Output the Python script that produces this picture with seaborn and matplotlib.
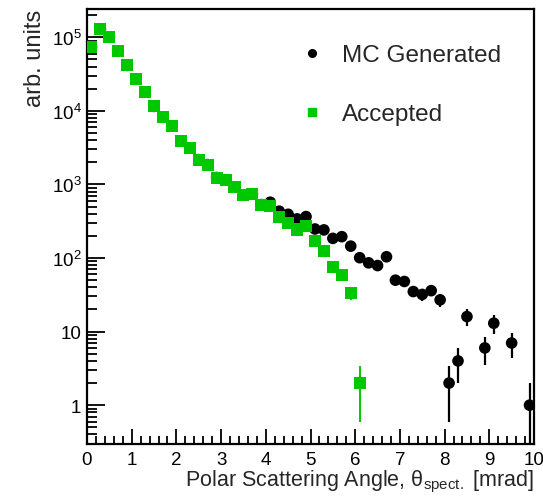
import numpy as np
import pandas as pd
import matplotlib
matplotlib.use("Agg")
import matplotlib.pyplot as plt
import seaborn as sns
from matplotlib.lines import Line2D
from matplotlib.ticker import FixedLocator, FixedFormatter, LogLocator, NullFormatter, MultipleLocator

# ---------------- data ----------------
angle_bins = [round(0.1 + 0.2 * i, 1) for i in range(50)]

accepted = [7.4e4, 1.28e5, 1.01e5, 6.5e4, 4.15e4, 2.7e4, 1.8e4, 1.15e4, 8.3e3, 6.2e3,
            3.9e3, 3.15e3, 2.17e3, 1.86e3, 1.24e3, 1.16e3, 925, 720, 745, 532,
            515, 358, 300, 244, 270, 169, 123, 75, 59, 33,
            2]

generated = [7.4e4, 1.28e5, 1.01e5, 6.5e4, 4.15e4, 2.7e4, 1.8e4, 1.15e4, 8.3e3, 6.2e3,
             3.9e3, 3.15e3, 2.17e3, 1.86e3, 1.24e3, 1.16e3, 925, 720, 745, 532,
             573, 433, 393, 340, 366, 248, 241, 185, 195, 145,
             101, 86, 79, 104, 50, 48, 35, 32, 36, 27,
             2, 4, 16, np.nan, 6, 13, np.nan, 7, np.nan, 1]

series_labels = ["MC Generated", "Accepted"]
y_tick_values = [1, 10, 100, 1000, 10000, 100000]
y_tick_labels = ["1", "10", "$10^{2}$", "$10^{3}$", "$10^{4}$", "$10^{5}$"]
x_tick_values = list(range(0, 11))

# ---------------- style ----------------
sns.set_theme(style="ticks")
plt.rcParams["font.family"] = ["Liberation Sans", "DejaVu Sans"]
plt.rcParams["mathtext.fontset"] = "custom"
plt.rcParams["mathtext.rm"] = "Liberation Sans"
plt.rcParams["mathtext.it"] = "Liberation Sans:italic"
plt.rcParams["mathtext.bf"] = "Liberation Sans:bold"

gen_df = pd.DataFrame({"angle": angle_bins, "count": generated}).dropna()
acc_df = pd.DataFrame({"angle": angle_bins[:len(accepted)], "count": accepted})
gen_df["err"] = np.sqrt(gen_df["count"])
acc_df["err"] = np.sqrt(acc_df["count"])

fig = plt.figure(figsize=(5.43, 5.02), dpi=100)
ax = fig.add_axes([87 / 543, 1 - 445 / 502, (534 - 87) / 543, (445 - 10) / 502])

black = "#000000"
green = "#00c800"

# error bars
ax.errorbar(gen_df["angle"], gen_df["count"], yerr=gen_df["err"], fmt="none",
            ecolor=black, elinewidth=1.6, capsize=0, zorder=2)
ax.errorbar(acc_df["angle"], acc_df["count"], yerr=acc_df["err"], fmt="none",
            ecolor=green, elinewidth=1.4, capsize=0, zorder=4)

sns.scatterplot(data=gen_df, x="angle", y="count", ax=ax, color=black, marker="o",
                s=70, edgecolor="none", linewidth=0, zorder=3, legend=False)
sns.scatterplot(data=acc_df, x="angle", y="count", ax=ax, color=green, marker="s",
                s=75, edgecolor="none", linewidth=0, zorder=5, legend=False)

ax.set_yscale("log")
ax.set_xlim(0, 10)
ax.set_ylim(0.297, 2.42e5)

# ticks
ax.xaxis.set_major_locator(FixedLocator(x_tick_values))
ax.xaxis.set_minor_locator(MultipleLocator(0.2))
ax.yaxis.set_major_locator(FixedLocator(y_tick_values))
ax.yaxis.set_major_formatter(FixedFormatter(y_tick_labels))
ax.yaxis.set_minor_locator(LogLocator(base=10, subs=np.arange(2, 10), numticks=20))
ax.yaxis.set_minor_formatter(NullFormatter())

ax.tick_params(axis="both", which="both", direction="in", top=False, right=False,
               labelsize=13.5, colors="black", width=1.3)
ax.tick_params(axis="y", which="major", length=13, pad=4)
ax.tick_params(axis="y", which="minor", length=7)
ax.tick_params(axis="x", which="major", length=11, pad=5)
ax.tick_params(axis="x", which="minor", length=6)

for sp in ax.spines.values():
    sp.set_visible(True)
    sp.set_linewidth(1.6)
    sp.set_color("black")

ax.set_xlabel("Polar Scattering Angle, θ$_{\\mathrm{spect.}}$ [mrad]", fontsize=15.5,
              loc="right", labelpad=0)
ax.set_ylabel("arb. units", fontsize=17, loc="top", labelpad=4)

handles = [Line2D([], [], linestyle="none", marker="o", color=black, markersize=5.5),
           Line2D([], [], linestyle="none", marker="s", color=green, markersize=5.5)]
ax.legend(handles, series_labels, loc="upper left", bbox_to_anchor=(0.46, 0.941),
          frameon=False, fontsize=17.5, handlelength=0.8, handletextpad=0.85,
          labelspacing=1.52, borderaxespad=0)

fig.savefig("out.png", dpi=100)
